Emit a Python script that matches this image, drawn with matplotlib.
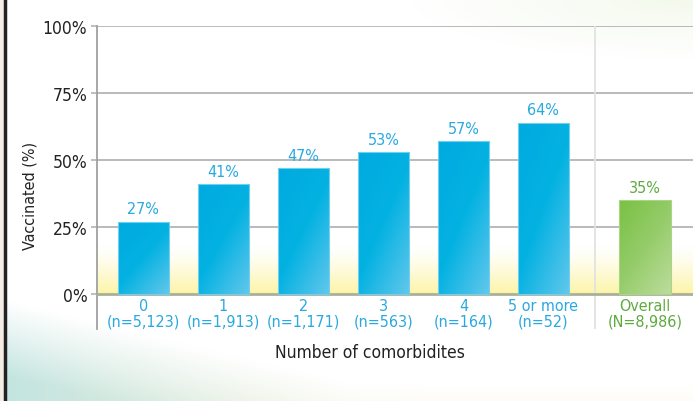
"""
Vaccination rate by number of comorbidities
"""
import matplotlib
matplotlib.use('Agg')
import matplotlib.pyplot as plt
from matplotlib.colors import LinearSegmentedColormap
import numpy as np

# Data
categories = ['0', '1', '2', '3', '4', '5 or more']
counts = ['(n=5,123)', '(n=1,913)', '(n=1,171)', '(n=563)', '(n=164)', '(n=52)']
vaccinated = [27, 41, 47, 53, 57, 64]
overall_label = 'Overall'
overall_count = '(N=8,986)'
overall_value = 35
yticks = [0, 25, 50, 75, 100]

# narrow look, like the original
plt.rcParams['font.family'] = ['DejaVu Sans']
plt.rcParams['font.stretch'] = 'condensed'

blue_txt = '#29a9df'
green_txt = '#5eaa3f'
dark = '#222222'

fig = plt.figure(figsize=(6.93, 4.02), dpi=100)

# decorative background
bg = fig.add_axes([0, 0, 1, 1], zorder=-10)
bg.set_axis_off()
h, w = 402, 693
yy, xx = np.mgrid[0:h, 0:w]
img = np.ones((h, w, 3))
curve = np.minimum(300 + 0.24 * xx, 385)
t = np.clip((yy - curve) / 75.0, 0, 1) * 0.65
teal = np.array([0.64, 0.84, 0.82])
warm = np.array([0.98, 0.93, 0.76])
mix = np.clip(1 - xx / 450.0, 0, 1)[..., None]
col = mix * teal + (1 - mix) * warm
img = img * (1 - t[..., None]) + col * t[..., None]
# top right faint tint
t2 = np.clip(1 - np.hypot((xx - 693) / 280.0, yy / 60.0), 0, 1) * 0.45
img = img * (1 - t2[..., None]) + np.array([0.90, 0.95, 0.84]) * t2[..., None]
bg.imshow(img, extent=[0, 1, 0, 1], aspect='auto')
bg.set_xlim(0, 1)
bg.set_ylim(0, 1)
bg.axvspan(0, 4 / 693, color='#f3ede4')
bg.axvline(5 / 693, color=dark, linewidth=2.5)

ax = fig.add_axes([97 / 693, 1 - 330 / 402, 1 - 97 / 693, (330 - 27) / 402])
ax.patch.set_alpha(0)

x = np.arange(len(categories))
x_overall = 6.27
width = 0.64

ax.set_xlim(-0.58, 6.87)
ax.set_ylim(-13, 100)

# yellow band above the baseline, fading upward
band = np.linspace(0, 1, 50)[:, None] ** 1.3
yellow = LinearSegmentedColormap.from_list('y', ['#ffffff', '#fdf4a8'])
ax.imshow(band, cmap=yellow, extent=[-0.58, 6.87, 0, 18], aspect='auto',
          zorder=0, vmin=0, vmax=1)

for yt in yticks[1:]:
    ax.axhline(yt, color='#b4b4b4', linewidth=1.3, zorder=1)
ax.axhline(0, color='#a9b09a', linewidth=2, zorder=3)
ax.axvline(5.64, ymin=0, ymax=1, color='#e2e2e2', linewidth=1.3, zorder=1)

# gradient bars
gx, gy = np.meshgrid(np.linspace(0, 1, 40), np.linspace(0, 1, 60))
grad = np.clip(0.55 * gy + 0.45 * gx, 0, 1)
blue_cm = LinearSegmentedColormap.from_list('b', ['#00aadf', '#04b2e2', '#62c7ec'])
green_cm = LinearSegmentedColormap.from_list('g', ['#7ac143', '#95cc6a', '#bcdc9c'])


def draw_bar(xc, val, cmap, edge):
    b = ax.bar(xc, val, width, color='none', edgecolor=edge, linewidth=0.8, zorder=4)[0]
    im = ax.imshow(grad, cmap=cmap, extent=[xc - width / 2, xc + width / 2, 0, val],
                   aspect='auto', zorder=3, vmin=0, vmax=1, origin='upper')
    im.set_clip_path(b)
    return b


for xi, v in zip(x, vaccinated):
    draw_bar(xi, v, blue_cm, '#6fd0f0')
    ax.text(xi, v + 2, f'{v}%', ha='center', va='bottom', color=blue_txt, fontsize=11.5)
draw_bar(x_overall, overall_value, green_cm, '#a9d585')
ax.text(x_overall, overall_value + 2, f'{overall_value}%', ha='center', va='bottom',
        color=green_txt, fontsize=11.5)

for xi, c, n in zip(x, categories, counts):
    ax.text(xi, -1.4, c, ha='center', va='top', color=blue_txt, fontsize=11.5)
    ax.text(xi, -7.1, n, ha='center', va='top', color=blue_txt, fontsize=11.5)
ax.text(x_overall, -1.4, overall_label, ha='center', va='top', color=green_txt, fontsize=11.5)
ax.text(x_overall, -7.1, overall_count, ha='center', va='top', color=green_txt, fontsize=11.5)

ax.set_ylabel('Vaccinated (%)', fontsize=11.5, color=dark)
ax.yaxis.set_label_coords(-0.1, (37 + 13) / 113)
ax.set_yticks(yticks)
ax.set_yticklabels([f'{v}%' for v in yticks], fontsize=12.5, color=dark)
ax.tick_params(axis='y', length=4, color='#b4b4b4', width=1.2, pad=3)
ax.set_xticks([])
for s in ['top', 'right', 'bottom']:
    ax.spines[s].set_visible(False)
ax.spines['left'].set_color('#a0a0a0')
ax.spines['left'].set_linewidth(1.3)

fig.text(370 / 693, 1 - 353 / 402, 'Number of comorbidites', ha='center', va='center',
         fontsize=12.5, color=dark)

plt.savefig('out.png', dpi=100)
